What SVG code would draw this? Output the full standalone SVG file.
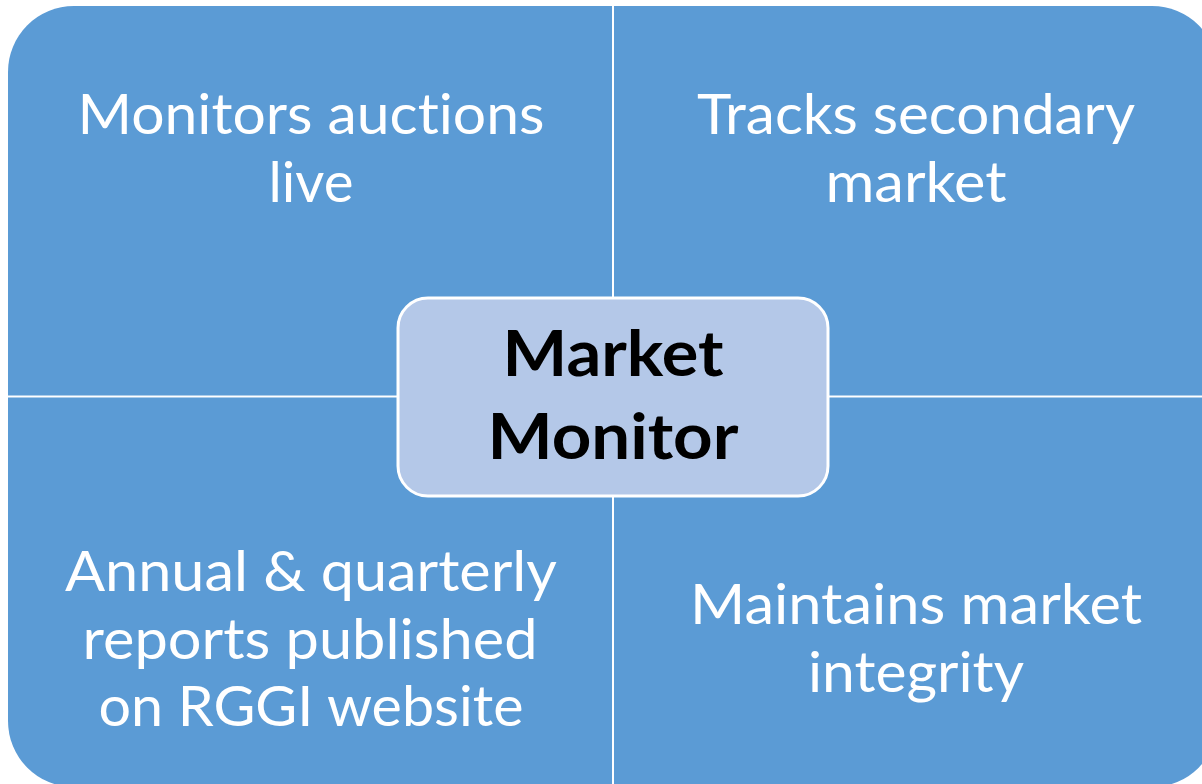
<svg xmlns="http://www.w3.org/2000/svg" width="1202" height="784" viewBox="0 0 1202 784">
<style>
.q{fill:#5B9BD5;}
.t{font-family:Lato,"Open Sans","Liberation Sans",sans-serif;font-size:56px;fill:#FFFFFF;text-anchor:middle;font-variant-ligatures:none;font-feature-settings:"liga" 0,"clig" 0;}
.c{fill:#B4C8E8;stroke:#FFFFFF;stroke-width:3;}
.b{font-family:Lato,"Open Sans","Liberation Sans",sans-serif;font-size:64px;font-weight:bold;fill:#000000;text-anchor:middle;font-variant-ligatures:none;font-feature-settings:"liga" 0,"clig" 0;}
</style>
<rect width="1202" height="784" fill="#FFFFFF"/>
<g id="q-top-left">
<path class="q" d="M8,395.5 V72 A66,66 0 0 1 74,6 H612 V395.5 Z"/>
<text class="t" x="311" y="134" textLength="467" lengthAdjust="spacingAndGlyphs">Monitors auctions</text>
<text class="t" x="311" y="202" textLength="85" lengthAdjust="spacingAndGlyphs">live</text>
</g>
<g id="q-top-right">
<path class="q" d="M614,6 H1152 A66,66 0 0 1 1218,72 V395.5 H614 Z"/>
<text class="t" x="916" y="134" textLength="438" lengthAdjust="spacingAndGlyphs">Tracks secondary</text>
<text class="t" x="916" y="202" textLength="181" lengthAdjust="spacingAndGlyphs">market</text>
</g>
<g id="q-bottom-left">
<path class="q" d="M8,397.5 H612 V787 H74 A66,66 0 0 1 8,721 Z"/>
<text class="t" x="311" y="591" textLength="492" lengthAdjust="spacingAndGlyphs">Annual &amp; quarterly</text>
<text class="t" x="310" y="659" textLength="455" lengthAdjust="spacingAndGlyphs">reports published</text>
<text class="t" x="311" y="726" textLength="425" lengthAdjust="spacingAndGlyphs">on RGGI website</text>
</g>
<g id="q-bottom-right">
<path class="q" d="M614,397.5 H1218 V721 A66,66 0 0 1 1152,787 H614 Z"/>
<text class="t" x="916" y="624" textLength="452" lengthAdjust="spacingAndGlyphs">Maintains market</text>
<text class="t" x="916" y="692" textLength="216" lengthAdjust="spacingAndGlyphs">integrity</text>
</g>
<g id="connectors"></g>
<g id="center">
<rect class="c" x="398" y="298" width="430" height="198" rx="30" ry="30"/>
<text class="b" x="613" y="376" textLength="221" lengthAdjust="spacingAndGlyphs">Market</text>
<text class="b" x="613" y="459" textLength="251" lengthAdjust="spacingAndGlyphs">Monitor</text>
</g>
</svg>
